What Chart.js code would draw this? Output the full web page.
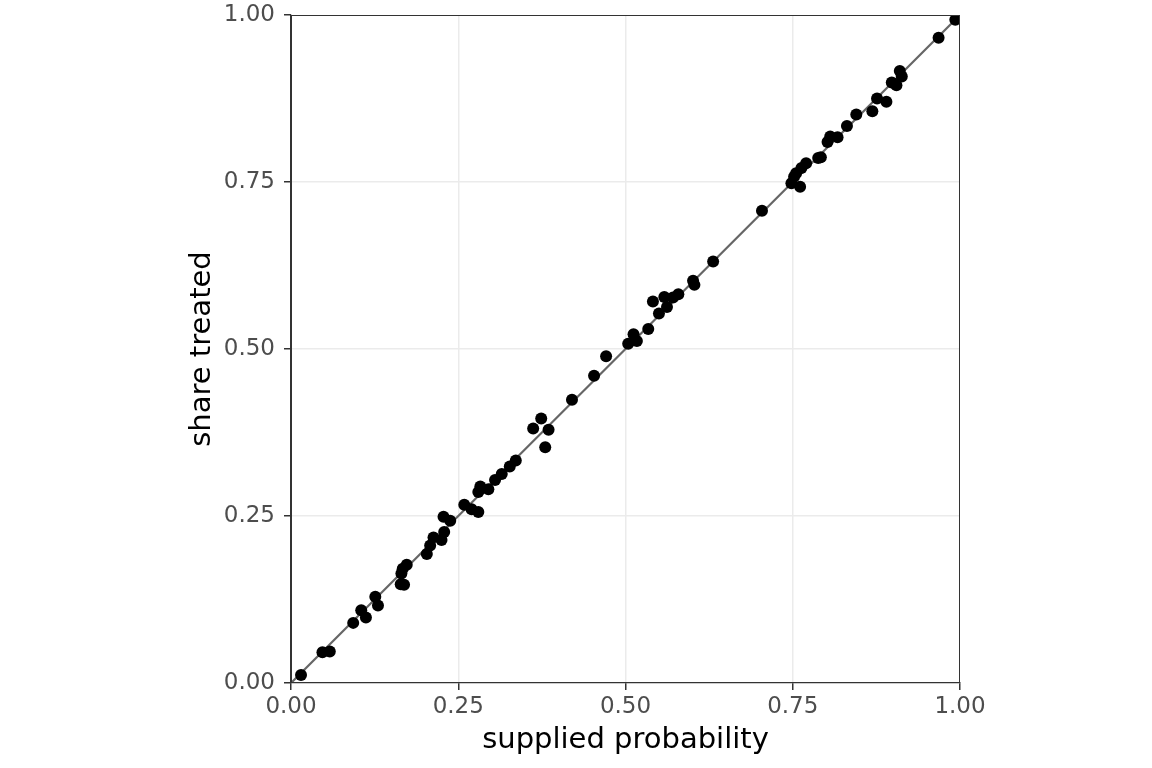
<!DOCTYPE html>
<html>
<head>
<meta charset="utf-8">
<script src="https://cdn.jsdelivr.net/npm/chart.js@4"></script>
<style>
  html, body { margin: 0; padding: 0; background: #ffffff; }
  #wrap { width: 1152px; height: 768px; }
</style>
</head>
<body>
<div id="wrap"><canvas id="grafico" width="1152" height="768"></canvas></div>
<script>
// valores
const probSupplied = [
  0.015, 0.047, 0.058, 0.093, 0.105, 0.112, 0.126, 0.130, 0.165, 0.173,
  0.167, 0.164, 0.169, 0.203, 0.208, 0.213, 0.225, 0.229, 0.228, 0.238,
  0.259, 0.270, 0.280, 0.280, 0.283, 0.295, 0.305, 0.315, 0.327, 0.336,
  0.380, 0.362, 0.374, 0.385, 0.420, 0.453, 0.471, 0.504, 0.512, 0.517,
  0.534, 0.541, 0.550, 0.558, 0.562, 0.571, 0.579, 0.601, 0.603, 0.631,
  0.704, 0.748, 0.761, 0.755, 0.763, 0.770, 0.752, 0.788, 0.792, 0.802,
  0.806, 0.817, 0.831, 0.845, 0.869, 0.876, 0.890, 0.898, 0.905, 0.910,
  0.913, 0.968, 0.993
];
const shareTreated = [
  0.012, 0.046, 0.047, 0.090, 0.109, 0.098, 0.129, 0.116, 0.164, 0.177,
  0.171, 0.148, 0.147, 0.193, 0.206, 0.218, 0.214, 0.226, 0.249, 0.243,
  0.267, 0.260, 0.256, 0.286, 0.294, 0.290, 0.304, 0.313, 0.324, 0.333,
  0.353, 0.381, 0.396, 0.379, 0.424, 0.460, 0.489, 0.508, 0.522, 0.512,
  0.530, 0.571, 0.553, 0.578, 0.563, 0.577, 0.582, 0.602, 0.596, 0.631,
  0.707, 0.748, 0.743, 0.763, 0.771, 0.778, 0.758, 0.786, 0.787, 0.810,
  0.818, 0.817, 0.834, 0.851, 0.856, 0.875, 0.870, 0.899, 0.895, 0.916,
  0.908, 0.966, 0.993
];
// linha de referência y = x
const refX = [0, 1];
const refY = [0, 1];
const tickValues = [0, 0.25, 0.5, 0.75, 1];

const pontos = probSupplied.map(function(v, i) { return { x: v, y: shareTreated[i] }; });
const linha = refX.map(function(v, i) { return { x: v, y: refY[i] }; });

// borda do painel (topo e direita)
const bordaPainel = {
  id: 'bordaPainel',
  afterDatasetsDraw: function(chart) {
    const a = chart.chartArea;
    const ctx = chart.ctx;
    ctx.save();
    ctx.strokeStyle = '#333333';
    ctx.lineWidth = 1;
    ctx.strokeRect(a.left + 0.5, a.top + 0.5, a.right - a.left - 1, a.bottom - a.top - 1);
    ctx.restore();
  }
};

function corGrade(c) {
  const v = c.tick ? c.tick.value : null;
  return (v === 0 || v === 1) ? 'rgba(0,0,0,0)' : '#ebebeb';
}

const fonte = "'DejaVu Sans', sans-serif";

new Chart(document.getElementById('grafico').getContext('2d'), {
  type: 'scatter',
  data: {
    datasets: [{
      label: 'pontos',
      data: pontos,
      backgroundColor: '#000000',
      borderColor: '#000000',
      pointRadius: 6,
      borderWidth: 0
    }, {
      label: 'y = x',
      data: linha,
      showLine: true,
      borderColor: '#666666',
      borderWidth: 2.2,
      pointRadius: 0
    }]
  },
  options: {
    responsive: false,
    animation: false,
    events: [],
    layout: { padding: { left: 171, right: 192, top: 15, bottom: 0 } },
    plugins: {
      legend: { display: false },
      tooltip: { enabled: false }
    },
    scales: {
      x: {
        type: 'linear',
        min: 0,
        max: 1,
        afterBuildTicks: function(s) { s.ticks = tickValues.map(function(v) { return { value: v }; }); },
        afterFit: function(s) { s.height = 85; },
        ticks: {
          padding: 3,
          color: '#4d4d4d',
          font: { family: fonte, size: 23 },
          maxRotation: 0,
          callback: function(v) { return Number(v).toFixed(2); }
        },
        grid: { color: corGrade, lineWidth: 1.5, tickLength: 7, tickColor: '#333333', tickWidth: 1.5 },
        border: { color: '#333333', width: 1.2 },
        title: {
          display: true,
          text: 'supplied probability',
          color: '#000000',
          font: { family: fonte, size: 29 },
          padding: { top: 0, bottom: 10 }
        }
      },
      y: {
        type: 'linear',
        min: 0,
        max: 1,
        afterBuildTicks: function(s) { s.ticks = tickValues.map(function(v) { return { value: v }; }); },
        afterFit: function(s) {
          s.width = 120;
          // sem folga extra acima/abaixo: o painel fica no topo como no original
          s.paddingTop = 0;
          s.paddingBottom = 0;
        },
        ticks: {
          padding: 9,
          color: '#4d4d4d',
          font: { family: fonte, size: 23 },
          callback: function(v) { return Number(v).toFixed(2); }
        },
        grid: { color: corGrade, lineWidth: 1.5, tickLength: 7, tickColor: '#333333', tickWidth: 1.5 },
        border: { color: '#333333', width: 1.2 },
        title: {
          display: true,
          text: 'share treated',
          color: '#000000',
          font: { family: fonte, size: 29 },
          padding: { top: 14, bottom: 0 }
        }
      }
    }
  },
  plugins: [bordaPainel]
});
</script>
</body>
</html>
